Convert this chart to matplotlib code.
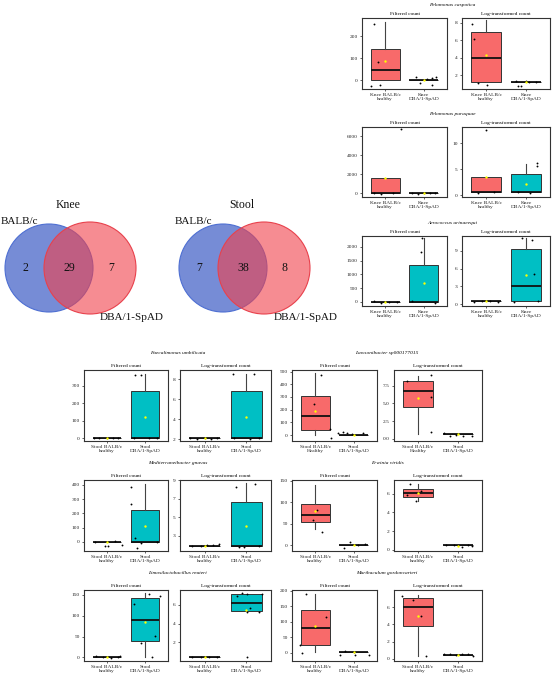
import matplotlib
matplotlib.use("Agg")
import matplotlib.pyplot as plt
from matplotlib.patches import Circle

plt.rcParams['font.family'] = ['Liberation Serif', 'DejaVu Serif']

W, H = 552, 679
RED = "#F86A6A"
TEAL = "#00BFC4"

# ---------------- Venn data ----------------
venn_titles = ["Knee", "Stool"]
knee_counts = [2, 29, 7]
stool_counts = [7, 38, 8]
venn_set_names = ["BALB/c", "DBA/1-SpAD"]

# ---------------- Box plot data ----------------
# stats per group: [whislo, q1, med, q3, whishi, mean]
knee_labels = ["Knee BALB/c\nhealthy", "Knee\nDBA/1-SpAD"]
stool_labels = ["Stool BALB/c\nhealthy", "Stool\nDBA/1-SpAD"]
stool_labels_cap = ["Stool BALB/c\nHealthy", "Stool\nDBA/1-SpAD"]

pcasp_filt_stats = [[0, 0, 48, 141, 265, 89], [0, 0, 0, 0, 0, 2]]
pcasp_filt_pts = [[255, 85, -25, -22], [14, -11, 7, 10, 15, -24]]
pcasp_log_stats = [[1.2, 1.2, 3.93, 6.98, 8.3, 4.27], [1.2, 1.2, 1.2, 1.2, 1.2, 1.22]]
pcasp_log_pts = [[7.8, 6.1, 1.08, 0.85], [1.37, 0.8, 0.8, 1.37, 1.2, 1.25]]

ppura_filt_stats = [[0, 0, 0, 1640, 1640, 1650], [0, 0, 0, 0, 0, 0]]
ppura_filt_pts = [[6700, 40, -60, 80], [20, -30, 10, -20, 30]]
ppura_log_stats = [[0.58, 0.58, 0.58, 3.46, 3.46, 3.5], [0.58, 0.58, 0.58, 4.1, 6.0, 2.17]]
ppura_log_pts = [[12.6, 0.5, 0.7], [6.1, 5.6, 0.6, 0.5]]

aero_filt_stats = [[0, 0, 0, 0, 0, 0], [0, 0, 0, 1350, 2325, 680]]
aero_filt_pts = [[20, -30, 10, -10], [2330, 1800, 20, -30]]
aero_log_stats = [[0.5, 0.5, 0.5, 0.5, 0.5, 0.5], [0.5, 0.5, 3.0, 9.3, 11.1, 4.9]]
aero_log_pts = [[0.4, 0.6, 0.5, 0.45], [11.1, 10.9, 5.1, 0.4, 0.6]]

faec_filt_stats = [[0, 0, 0, 0, 0, 0], [0, 0, 0, 271, 370, 121]]
faec_filt_pts = [[1, -1, 2, 0, -2], [366, 366, 2, -2, 3]]
faec_log_stats = [[2.1, 2.1, 2.1, 2.1, 2.1, 2.1], [2.1, 2.1, 2.1, 6.86, 8.5, 4.2]]
faec_log_pts = [[2.1, 2.05, 2.12, 2.08, 2.1], [8.5, 8.55, 2.1, 2.0, 2.15]]

laws_filt_stats = [[0, 39, 150, 307, 486, 191], [0, 0, 0, 0, 0, 0]]
laws_filt_pts = [[475, 244, 45, -20], [15, 23, 15, 5, 15]]
laws_log_stats = [[0.7, 4.5, 6.8, 8.1, 8.9, 5.8], [0.75, 0.75, 0.75, 0.75, 0.75, 0.7]]
laws_log_pts = [[8.2, 9.0, 5.9, 1.0], [0.45, 0.6, 0.4, 0.42, 0.8]]

medi_filt_stats = [[0, 0, 0, 0, 0, 0], [0, 0, 0, 223, 405, 113]]
medi_filt_pts = [[-30, -30, -20, 0, 2], [388, 264, 28, -12, -42, 0]]
medi_log_stats = [[1.93, 1.93, 1.93, 1.93, 1.93, 1.93], [1.93, 1.93, 1.93, 6.64, 8.65, 4.07]]
medi_log_pts = [[1.93, 1.9, 2.0, 2.05, 2.1], [8.3, 8.6, 1.85, 1.85, 1.93]]

erw_filt_stats = [[37, 54, 71, 96, 141, 79], [0, 0, 0, 0, 0, 0]]
erw_filt_pts = [[83, 60, 31], [7.5, -7, 0, 3]]
erw_log_stats = [[5.2, 5.68, 6.1, 6.57, 7.1, 6.1], [0.46, 0.46, 0.46, 0.46, 0.46, 0.4]]
erw_log_pts = [[7.1, 6.3, 5.9, 5.2], [0.5, 0.45, 0.3, 0.55, 0.4]]

limo_filt_stats = [[0, 0, 0, 0, 0, 0], [1.5, 39, 90, 142, 154, 86]]
limo_filt_pts = [[2, 1, 0, -1, 2], [152, 148, 127.5, 51, 35, 1.5]]
limo_log_stats = [[0.4, 0.4, 0.4, 0.4, 0.4, 0.4], [5.3, 5.3, 6.25, 7.15, 7.2, 5.47]]
limo_log_pts = [[0.4, 0.42, 0.38, 0.4], [7.0, 7.25, 7.2, 5.65, 5.2, 5.2, 7.2, 0.47]]

muri_filt_stats = [[3, 26, 79, 139, 189, 86], [2, 2, 2, 2, 2, 2]]
muri_filt_pts = [[189, 116, 26, -3], [5, -8, 2, -8, -7]]
muri_log_stats = [[0.34, 3.85, 5.97, 7.07, 7.45, 4.95], [0.4, 0.4, 0.4, 0.4, 0.4, 0.4]]
muri_log_pts = [[7.33, 6.84, 4.98, 0.34], [0.55, 0.6, 0.4, 0.5, 0.6, 0.35]]

# jitter offsets (horizontal positions of points)
pcasp_filt_jit = [[-0.29, -0.18, -0.38, -0.13], [-0.21, -0.11, 0.07, 0.2, 0.32, 0.2]]
pcasp_log_jit = [[-0.34, -0.3, -0.21, 0.03], [-0.26, -0.19, -0.12, 0.0, 0.07, 0.26]]
ppura_filt_jit = [[0.4, -0.3, -0.1, 0.2], [-0.3, -0.15, 0.0, 0.15, 0.3]]
ppura_log_jit = [[0.0, -0.2, 0.2], [0.27, 0.27, -0.2, 0.1]]
aero_filt_jit = [[-0.3, -0.1, 0.1, 0.3], [-0.06, -0.08, -0.3, 0.3]]
aero_log_jit = [[-0.3, -0.1, 0.1, 0.3], [-0.11, 0.14, 0.2, -0.3, 0.3]]
faec_filt_jit = [[-0.35, -0.2, 0.0, 0.15, 0.3], [-0.26, -0.1, -0.3, 0.1, 0.3]]
faec_log_jit = [[-0.35, -0.2, 0.0, 0.15, 0.3], [-0.31, 0.18, -0.3, 0.1, 0.3]]
laws_filt_jit = [[0.15, -0.04, 0.39, 0.4], [-0.4, -0.29, -0.18, -0.05, 0.25]]
laws_log_jit = [[-0.28, 0.33, 0.33, 0.33], [-0.2, -0.06, 0.13, 0.34, -0.35]]
medi_filt_jit = [[-0.05, 0.03, 0.4, -0.3, 0.2], [-0.38, -0.38, -0.26, -0.11, -0.2, 0.32]]
medi_log_jit = [[-0.3, -0.1, 0.05, 0.2, 0.35], [-0.24, 0.22, -0.17, -0.06, 0.32]]
erw_filt_jit = [[0.04, -0.06, 0.17], [-0.1, -0.25, 0.12, 0.3]]
erw_log_jit = [[-0.19, 0.07, -0.28, -0.04], [-0.3, -0.1, 0.1, 0.25, 0.35]]
limo_filt_jit = [[-0.29, 0.28, -0.1, 0.1, 0.35], [0.09, 0.38, -0.28, 0.26, -0.11, 0.17]]
limo_log_jit = [[-0.3, -0.1, 0.1, 0.3], [-0.23, -0.09, 0.02, 0.1, 0.02, 0.31, 0.38, 0.03]]
muri_filt_jit = [[-0.23, 0.28, -0.39, -0.35], [-0.22, -0.37, 0.01, 0.38, 0.03]]
muri_log_jit = [[-0.4, -0.12, 0.08, 0.19], [-0.35, -0.2, -0.05, 0.1, 0.25, 0.38]]

fig = plt.figure(figsize=(W / 100, H / 100), dpi=100)
fig.patch.set_facecolor("white")

FS = 3.9
EDGE = "#333333"


def pix_axes(x0, y0, x1, y1):
    return fig.add_axes([x0 / W, 1 - y1 / H, (x1 - x0) / W, (y1 - y0) / H])


def ftext(x, y, s, **kw):
    fig.text(x / W, 1 - y / H, s, **kw)


def panel(box, stats, pts, jit, ylim, yticks, labels, subtitle, ytl=None):
    ax = pix_axes(*box)
    colors = [RED, TEAL]
    bstats = []
    for st in stats:
        bstats.append(dict(whislo=st[0], q1=st[1], med=st[2], q3=st[3],
                           whishi=st[4], mean=st[5], fliers=[]))
    bp = ax.bxp(bstats, positions=[1, 2], widths=0.75, patch_artist=True,
                showcaps=False, showfliers=False, showmeans=False,
                boxprops=dict(linewidth=0.7, edgecolor=EDGE),
                whiskerprops=dict(linewidth=0.8, color="#444444"),
                medianprops=dict(linewidth=1.3, color="#111111"))
    for patch, c in zip(bp['boxes'], colors):
        patch.set_facecolor(c)
    for i in range(2):
        xs = [i + 1 + d for d in jit[i]]
        ax.scatter(xs, pts[i], s=1.8, color="black", zorder=4, linewidths=0)
        ax.scatter([i + 1], [stats[i][5]], s=3.0, color="#FFFF00", zorder=5, linewidths=0)
    ax.set_xlim(0.4, 2.6)
    ax.set_ylim(*ylim)
    ax.set_yticks(yticks)
    if ytl is not None:
        ax.set_yticklabels(ytl)
    ax.set_xticks([1, 2])
    ax.set_xticklabels(labels, linespacing=1.1)
    ax.tick_params(labelsize=FS, length=1.5, width=0.5, pad=1.5, colors="#222222")
    for sp in ax.spines.values():
        sp.set_linewidth(0.8)
        sp.set_color(EDGE)
    ax.set_title(subtitle, fontsize=FS, pad=2.5)
    return ax


# ---------------- top right ----------------
TL, TR = (362, 447), (462, 550)
rows_top = [(18, 89), (127, 197), (236, 306)]
top_specs = [
    ("Pelomonas caspotica",
     (pcasp_filt_stats, pcasp_filt_pts, pcasp_filt_jit, (-40, 283), [0, 100, 200]),
     (pcasp_log_stats, pcasp_log_pts, pcasp_log_jit, (0.44, 8.53), [2, 4, 6, 8])),
    ("Pelomonas puraquae",
     (ppura_filt_stats, ppura_filt_pts, ppura_filt_jit, (-390, 6947), [0, 2000, 4000, 6000]),
     (ppura_log_stats, ppura_log_pts, ppura_log_jit, (-0.33, 13.1), [0, 5, 10])),
    ("Aerococcus urinaeequi",
     (aero_filt_stats, aero_filt_pts, aero_filt_jit, (-146, 2400), [0, 500, 1000, 1500, 2000]),
     (aero_log_stats, aero_log_pts, aero_log_jit, (-0.3, 11.5), [0, 3, 6, 9])),
]
for (y0, y1), (name, f, l) in zip(rows_top, top_specs):
    panel((TL[0], y0, TL[1], y1), f[0], f[1], f[2], f[3], f[4], knee_labels, "Filtered count")
    panel((TR[0], y0, TR[1], y1), l[0], l[1], l[2], l[3], l[4], knee_labels, "Log-transformed count")
    ftext(452, y0 - 13, name, fontsize=FS, style="italic", ha="center", va="center")

# ---------------- bottom ----------------
GL = [(84, 168), (180, 271)]
GR = [(292, 377), (394, 482)]
rows_bot = [(370, 441), (480, 551), (590, 661)]
bot_specs = [
    (("Faecalimonas umbilicata", stool_labels,
      (faec_filt_stats, faec_filt_pts, faec_filt_jit, (-17, 392), [0, 100, 200, 300], None),
      (faec_log_stats, faec_log_pts, faec_log_jit, (1.83, 8.93), [2, 4, 6, 8], None)),
     ("Lawsonibacter sp000177015", stool_labels_cap,
      (laws_filt_stats, laws_filt_pts, laws_filt_jit, (-47, 512), [0, 100, 200, 300, 400, 500], None),
      (laws_log_stats, laws_log_pts, laws_log_jit, (-0.3, 9.7), [0, 2.5, 5, 7.5], ["0.0", "2.5", "5.0", "7.5"]))),
    (("Mediterraneibacter gnavus", stool_labels,
      (medi_filt_stats, medi_filt_pts, medi_filt_jit, (-65, 435), [0, 100, 200, 300, 400], None),
      (medi_log_stats, medi_log_pts, medi_log_jit, (1.39, 9.0), [3, 5, 7, 9], None)),
     ("Erwinia viridis", stool_labels,
      (erw_filt_stats, erw_filt_pts, erw_filt_jit, (-13, 152), [0, 50, 100, 150], None),
      (erw_log_stats, erw_log_pts, erw_log_jit, (-0.15, 7.5), [0, 2, 4, 6], None))),
    (("Limosilactobacillus reuteri", stool_labels,
      (limo_filt_stats, limo_filt_pts, limo_filt_jit, (-9, 162), [0, 50, 100, 150], None),
      (limo_log_stats, limo_log_pts, limo_log_jit, (0.0, 7.6), [2, 4, 6], None)),
     ("Muribaculum gordoncarteri", stool_labels,
      (muri_filt_stats, muri_filt_pts, muri_filt_jit, (-27.5, 203), [0, 50, 100, 150, 200], None),
      (muri_log_stats, muri_log_pts, muri_log_jit, (-0.26, 8.0), [0, 2, 4, 6], None))),
]
for (y0, y1), specs in zip(rows_bot, bot_specs):
    for grp, (name, labs, f, l) in zip([GL, GR], specs):
        panel((grp[0][0], y0, grp[0][1], y1), f[0], f[1], f[2], f[3], f[4], labs, "Filtered count", f[5])
        panel((grp[1][0], y0, grp[1][1], y1), l[0], l[1], l[2], l[3], l[4], labs, "Log-transformed count", l[5])
        cx = (grp[0][0] + grp[1][1]) / 2
        ftext(cx, y0 - 17, name, fontsize=FS, style="italic", ha="center", va="center")

# ---------------- Venn diagrams ----------------
vax = pix_axes(0, 195, 340, 330)
vax.set_xlim(0, 340)
vax.set_ylim(330, 195)
vax.set_aspect("equal")
vax.axis("off")
venn_layout = [(0, knee_counts), (174, stool_counts)]
for (dx, counts), title in zip(venn_layout, venn_titles):
    vax.add_patch(Circle((49 + dx, 268), 44, facecolor="#2D4EC0", alpha=0.65,
                         edgecolor="none"))
    vax.add_patch(Circle((49 + dx, 268), 44, facecolor="none",
                         edgecolor="#4E6FD2", lw=0.8))
    vax.add_patch(Circle((90 + dx, 268), 46, facecolor="#F0404A", alpha=0.6,
                         edgecolor="none"))
    vax.add_patch(Circle((90 + dx, 268), 46, facecolor="none",
                         edgecolor="#E8414C", lw=0.8))
    for xx, c in zip([25 + dx, 69 + dx, 111 + dx], counts):
        vax.text(xx, 268, str(c), fontsize=8.5, ha="center", va="center", color="#111111")
    vax.text(68 + dx, 205, title, fontsize=8.5, ha="center", va="center", color="#111111")
    vax.text(1 + dx, 222, venn_set_names[0], fontsize=8, ha="left", va="center", color="#111111")
    vax.text(100 + dx, 317, venn_set_names[1], fontsize=8, ha="left", va="center", color="#111111")

fig.savefig("out.png", dpi=100, facecolor="white")
